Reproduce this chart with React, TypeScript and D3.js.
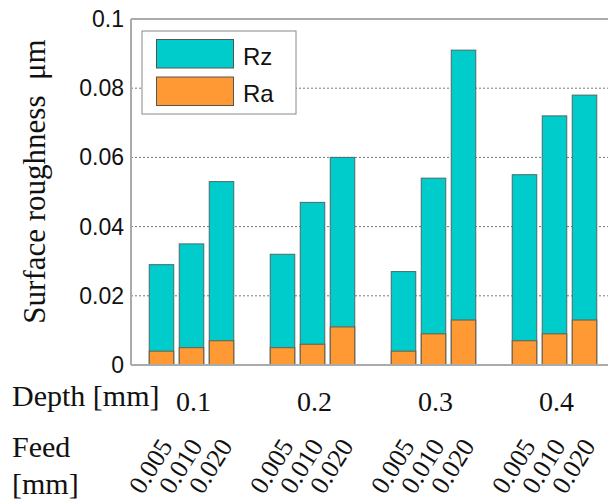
import React from "react";
import * as d3 from "d3";

const depths = ["0.1", "0.2", "0.3", "0.4"];
const feeds = ["0.005", "0.010", "0.020"];
const rzValues = [
  [0.029, 0.035, 0.053],
  [0.032, 0.047, 0.060],
  [0.027, 0.054, 0.091],
  [0.055, 0.072, 0.078],
];
const raValues = [
  [0.004, 0.005, 0.007],
  [0.005, 0.006, 0.011],
  [0.004, 0.009, 0.013],
  [0.007, 0.009, 0.013],
];
const yTicks = [0, 0.02, 0.04, 0.06, 0.08, 0.1];
const yTickLabels = ["0", "0.02", "0.04", "0.06", "0.08", "0.1"];
const seriesNames = ["Rz", "Ra"];

const W = 608;
const H = 503;
const left = 131;
const right = 615;
const top = 19;
const bottom = 365;

const RZ_COLOR = "#00CCCC";
const RA_COLOR = "#FF9933";
const SERIF = "'Liberation Serif', 'Times New Roman', serif";
const SANS = "'Liberation Sans', Arial, sans-serif";

export default function App() {
  const x0 = d3.scaleBand<string>().domain(depths).range([left, right]).padding(0);
  const x1 = d3
    .scaleBand<string>()
    .domain(feeds)
    .range([0, x0.bandwidth()])
    .paddingInner(0.183)
    .paddingOuter(0.608);
  const y = d3.scaleLinear().domain([0, 0.1]).range([bottom, top]);

  const legendColors = [RZ_COLOR, RA_COLOR];

  return (
    <svg
      width={W}
      height={H}
      style={{ position: "absolute", left: 0, top: 0, background: "#fff" }}
    >
      <rect x={0} y={0} width={W} height={H} fill="#fff" />
      {/* gridlines */}
      {yTicks.slice(1, -1).map((t) => (
        <line
          key={"g" + t}
          x1={left}
          x2={W}
          y1={y(t)}
          y2={y(t)}
          stroke="#777"
          strokeWidth={1}
          strokeDasharray="2,2"
        />
      ))}
      {/* frame */}
      <line x1={left} x2={W} y1={top} y2={top} stroke="#aaa" strokeWidth={2} />
      <line x1={left} x2={left} y1={top} y2={bottom} stroke="#aaa" strokeWidth={2} />
      {/* bars */}
      {depths.map((d, gi) => (
        <g key={d} transform={`translate(${x0(d)},0)`}>
          {feeds.map((f, fi) => (
            <g key={f}>
              <rect
                x={x1(f)}
                y={y(rzValues[gi][fi])}
                width={x1.bandwidth()}
                height={y(0) - y(rzValues[gi][fi])}
                fill={RZ_COLOR}
                stroke="#4a6a6a"
                strokeWidth={1}
              />
              <rect
                x={x1(f)}
                y={y(raValues[gi][fi])}
                width={x1.bandwidth()}
                height={y(0) - y(raValues[gi][fi])}
                fill={RA_COLOR}
                stroke="#6a5a4a"
                strokeWidth={1}
              />
            </g>
          ))}
        </g>
      ))}
      <line x1={left} x2={W} y1={bottom} y2={bottom} stroke="#aaa" strokeWidth={2} />
      {/* y tick labels */}
      {yTicks.map((t, i) => (
        <text
          key={"t" + t}
          x={124}
          y={y(t)}
          textAnchor="end"
          dominantBaseline="central"
          fontFamily={SANS}
          fontSize={23}
          fill="#111"
        >
          {yTickLabels[i]}
        </text>
      ))}
      {/* y title */}
      <text
        transform={`translate(45,${(40 + 323) / 2}) rotate(-90)`}
        textAnchor="middle"
        fontFamily={SERIF}
        fontSize={31}
        fill="#111"
      >
        {"Surface roughness\u00A0\u00A0μm"}
      </text>
      {/* legend */}
      <rect x={142} y={31} width={154} height={83} fill="#fff" stroke="#888" strokeWidth={1} />
      {seriesNames.map((s, i) => (
        <g key={s}>
          <rect
            x={156.5}
            y={39.5 + i * 37.5}
            width={77}
            height={28.5}
            fill={legendColors[i]}
            stroke="#555"
            strokeWidth={1}
          />
          <text x={243} y={65 + i * 37} fontFamily={SANS} fontSize={24} fill="#111">
            {s}
          </text>
        </g>
      ))}
      {/* bottom labels */}
      <text x={12} y={406} fontFamily={SERIF} fontSize={30} fill="#111">
        Depth [mm]
      </text>
      <text x={12} y={457} fontFamily={SERIF} fontSize={30} fill="#111">
        Feed
      </text>
      <text x={12} y={494} fontFamily={SERIF} fontSize={30} fill="#111">
        [mm]
      </text>
      {depths.map((d) => (
        <text
          key={"dl" + d}
          x={(x0(d) as number) + x0.bandwidth() / 2 + 2}
          y={411}
          textAnchor="middle"
          fontFamily={SERIF}
          fontSize={28}
          fill="#111"
        >
          {d}
        </text>
      ))}
      {depths.map((d) =>
        feeds.map((f) => {
          const cx = (x0(d) as number) + (x1(f) as number) + x1.bandwidth() / 2;
          return (
            <text
              key={"fl" + d + f}
              transform={`translate(${cx + 12},446) rotate(-58)`}
              textAnchor="end"
              fontFamily={SERIF}
              fontSize={26}
              fill="#111"
            >
              {f}
            </text>
          );
        })
      )}
    </svg>
  );
}
